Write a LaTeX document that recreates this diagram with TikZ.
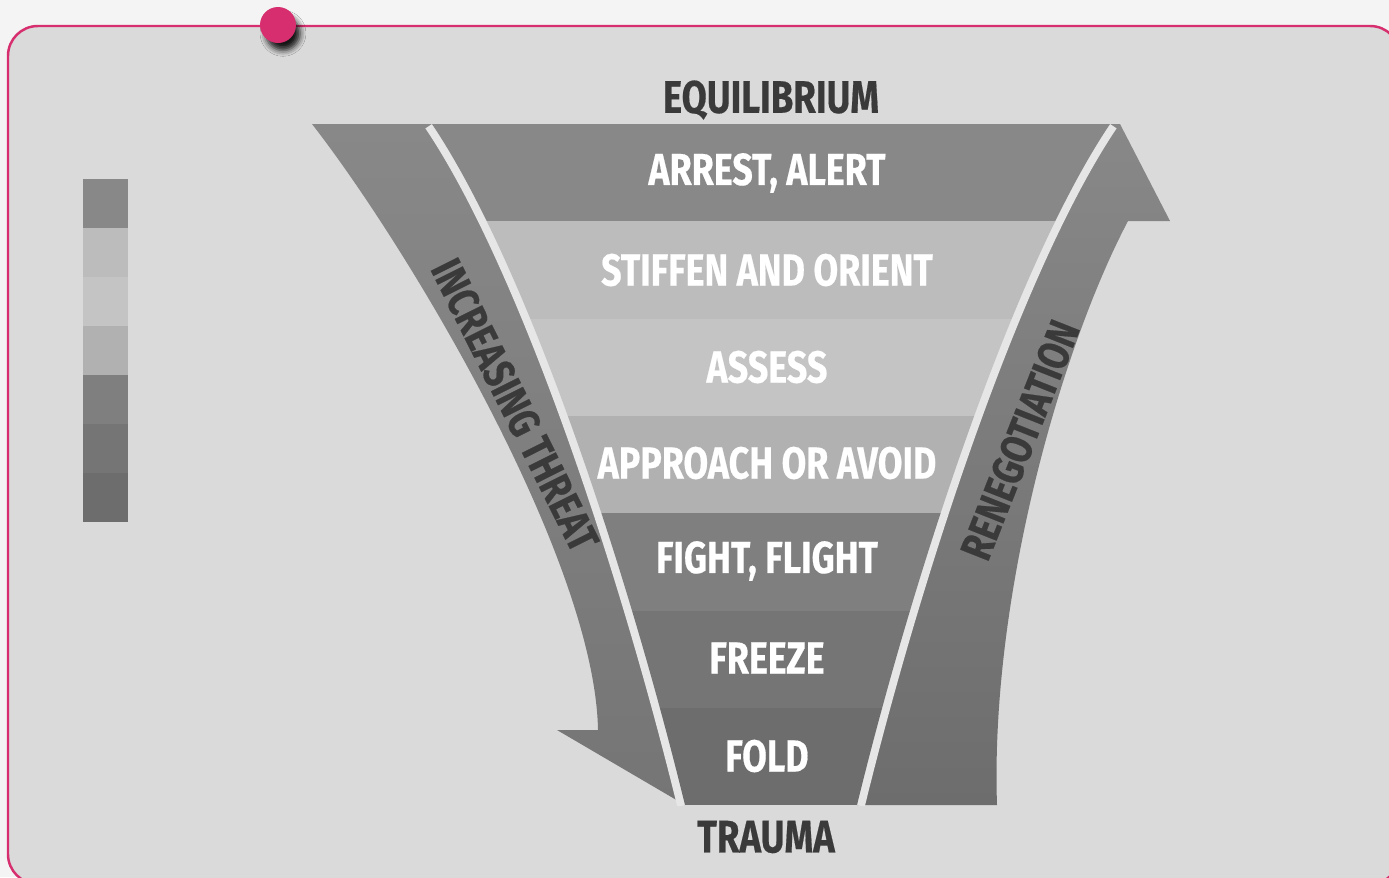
\documentclass[tikz,border=0pt]{standalone}
\usepackage{fontspec}
\newfontfamily\condfont{Fira Sans}[FakeStretch=0.8, FakeBold=0.4]
\usetikzlibrary{shadows.blur}

\definecolor{framepink}{HTML}{D62E6E}
\definecolor{pagebg}{HTML}{F4F4F4}
\definecolor{panelbg}{HTML}{DADADA}
\definecolor{gapline}{HTML}{E6E6E6}
\definecolor{labeldark}{HTML}{3A3A3A}
\definecolor{lvlA}{HTML}{888888}
\definecolor{lvlB}{HTML}{BCBCBC}
\definecolor{lvlC}{HTML}{C4C4C4}
\definecolor{lvlD}{HTML}{B1B1B1}
\definecolor{lvlE}{HTML}{7F7F7F}
\definecolor{lvlF}{HTML}{757575}
\definecolor{lvlG}{HTML}{6D6D6D}

\begin{document}
\begin{tikzpicture}[x=0.02cm,y=-0.02cm,
    bandlabel/.style={text=white, font=\condfont\bfseries\fontsize{25.5}{25.5}\selectfont},
    endlabel/.style={text=labeldark, font=\condfont\bfseries\fontsize{26}{26}\selectfont},
    arrowlabel/.style={text=labeldark, font=\condfont\bfseries\fontsize{25}{25}\selectfont}]
            \useasboundingbox (0,0) rectangle (1389,877);
            \fill[pagebg] (0,0) rectangle (1389,877);
            \draw[framepink, line width=1.4pt, fill=panelbg, rounded corners=17pt] (8,26) rectangle (1400,884);

            % legend bar
            \foreach \c [count=\i] in {lvlA,lvlB,lvlC,lvlD,lvlE,lvlF,lvlG}
                \fill[\c] (83,{179+49*(\i-1)}) rectangle (128,{179+49*\i});

            % arrows
            \shade[top color=lvlA, middle color=gray!55, bottom color=lvlF]
                (312,124) -- (432,124) .. controls (530,270) and (630,580) .. (685,805)
                -- (557,730) -- (598,730) .. controls (595,560) and (410,250) .. (312,124) -- cycle;
            \shade[top color=lvlA, middle color=gray!50, bottom color=lvlG]
                (857,805) .. controls (912,580) and (1012,270) .. (1110,124) -- (1120,124)
                -- (1170,221) -- (1128,221) .. controls (1060,350) and (990,600) .. (997,805) -- cycle;
            \begin{scope}
                \clip (0,124) rectangle (1389,805);
                \draw[gapline, line width=9pt] (432,124) .. controls (530,270) and (630,580) .. (685,805);
                \draw[gapline, line width=9pt] (857,805) .. controls (912,580) and (1012,270) .. (1110,124);
            \end{scope}

            % funnel
            \begin{scope}
                \clip (432,124) .. controls (530,270) and (630,580) .. (685,805)
                    -- (857,805) .. controls (912,580) and (1012,270) .. (1110,124) -- cycle;
                \foreach \c [count=\i] in {lvlA,lvlB,lvlC,lvlD,lvlE,lvlF,lvlG}
                    \fill[\c] (400,{124+97.3*(\i-1)}) rectangle (1150,{124+97.3*\i});
            \end{scope}

            \node[bandlabel] (arrest) at (767,173) {ARREST, ALERT};
            \node[bandlabel] (stiffen) at (767,270) {STIFFEN AND ORIENT};
            \node[bandlabel] (assess) at (767,367) {ASSESS};
            \node[bandlabel] (approach) at (767,463) {APPROACH OR AVOID};
            \node[bandlabel] (fight) at (767,561) {FIGHT, FLIGHT};
            \node[bandlabel] (freeze) at (767,658) {FREEZE};
            \node[bandlabel] (fold) at (767,756) {FOLD};

            \node[endlabel] (equilibrium) at (771,100) {EQUILIBRIUM};
            \node[endlabel] (trauma) at (766,837) {TRAUMA};

            \node[arrowlabel, rotate=-63.4] (threat) at (515,405) {INCREASING THREAT};
            \node[arrowlabel, rotate=68.4] (renegotiation) at (1020,440) {RENEGOTIATION};

            \node[circle, fill=framepink, minimum size=0.72cm, inner sep=0pt,
                blur shadow={shadow xshift=3pt, shadow yshift=-5pt, shadow blur radius=3.5pt,
                    shadow opacity=90, shadow scale=0.95}] (pin) at (278,25) {};
        \end{tikzpicture}
\end{document}
